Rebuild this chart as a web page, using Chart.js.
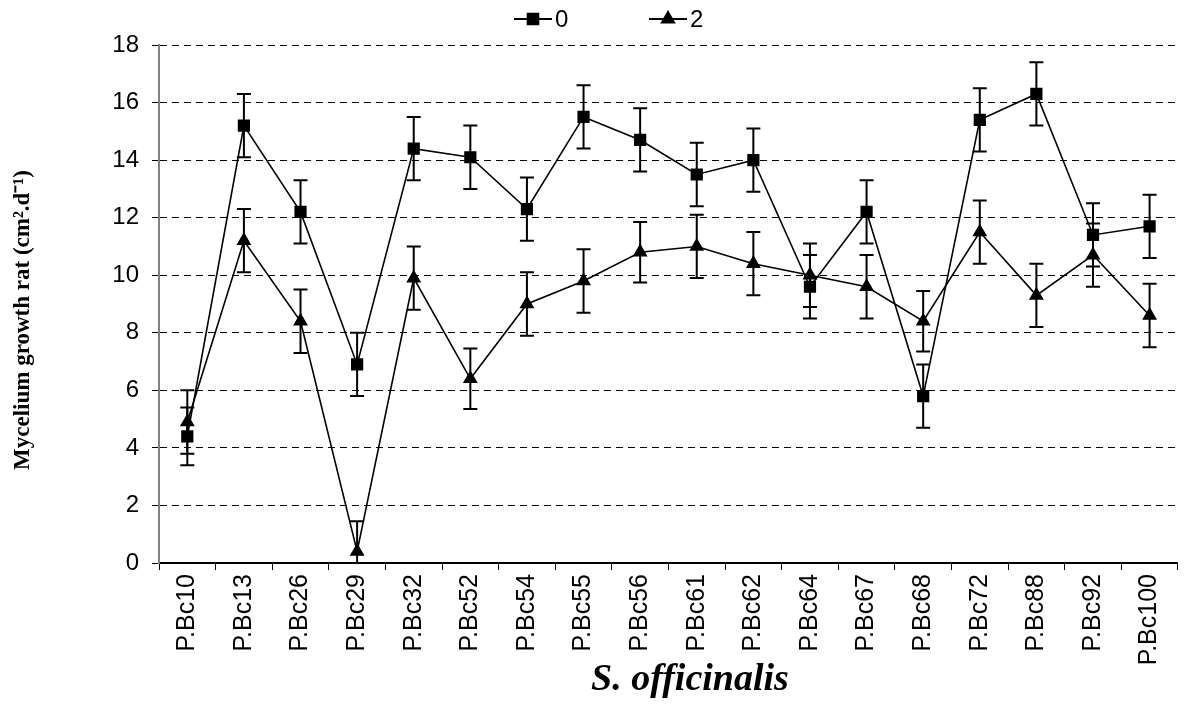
<!DOCTYPE html>
<html>
<head>
<meta charset="utf-8">
<script src="https://cdn.jsdelivr.net/npm/chart.js@4.4.1/dist/chart.umd.min.js"></script>
<style>
    html, body { margin: 0; padding: 0; background: #fff; }
    #wrap { width: 1187px; height: 709px; }
</style>
</head>
<body>
<div id="wrap"><canvas id="myChart" width="1187" height="709"></canvas></div>
<script>
// Isolates on the x axis
const isolates = ['P.Bc10', 'P.Bc13', 'P.Bc26', 'P.Bc29', 'P.Bc32', 'P.Bc52', 'P.Bc54', 'P.Bc55', 'P.Bc56',
    'P.Bc61', 'P.Bc62', 'P.Bc64', 'P.Bc67', 'P.Bc68', 'P.Bc72', 'P.Bc88', 'P.Bc92', 'P.Bc100'];

// Series "0" (squares) and its error bars
const growth0 = [4.4, 15.2, 12.2, 6.9, 14.4, 14.1, 12.3, 15.5, 14.7, 13.5, 14.0, 9.6, 12.2, 5.8, 15.4, 16.3, 11.4, 11.7];
const err0 = [1.0, 1.1, 1.1, 1.1, 1.1, 1.1, 1.1, 1.1, 1.1, 1.1, 1.1, 1.1, 1.1, 1.1, 1.1, 1.1, 1.1, 1.1];

// Series "2" (triangles) and its error bars
const growth2 = [4.9, 11.2, 8.4, 0.4, 9.9, 6.4, 9.0, 9.8, 10.8, 11.0, 10.4, 10.0, 9.6, 8.4, 11.5, 9.3, 10.7, 8.6];
const err2 = [1.1, 1.1, 1.1, 1.05, 1.1, 1.05, 1.1, 1.1, 1.05, 1.1, 1.1, 1.1, 1.1, 1.05, 1.1, 1.1, 1.1, 1.1];

const seriesNames = ['0', '2'];
const yTicks = [0, 2, 4, 6, 8, 10, 12, 14, 16, 18];
const xTitle = 'S. officinalis';
const yTitle = 'Mycelium growth rat (cm\u00B2.d\u207B\u00B9)';

// draws the error bars with caps (clipped to the plot area)
const errorBars = {
    id: 'errorBars',
    afterDatasetsDraw(chart) {
        const ctx = chart.ctx;
        const y = chart.scales.y;
        chart.data.datasets.forEach((ds, di) => {
            const meta = chart.getDatasetMeta(di);
            ctx.save();
            ctx.strokeStyle = '#000';
            ctx.lineWidth = 2;
            meta.data.forEach((pt, i) => {
                const e = ds.errors[i];
                const top = y.getPixelForValue(ds.data[i] + e);
                const lo = ds.data[i] - e;
                const bot = y.getPixelForValue(Math.max(lo, 0));
                ctx.beginPath();
                ctx.moveTo(pt.x, top); ctx.lineTo(pt.x, bot);
                ctx.moveTo(pt.x - 7, top); ctx.lineTo(pt.x + 7, top);
                if (lo >= 0) {
                    ctx.moveTo(pt.x - 7, bot); ctx.lineTo(pt.x + 7, bot);
                }
                ctx.stroke();
            });
            ctx.restore();
        });
    }
};

// legend with line + marker like the original, plus the axis titles
const lineLegend = {
    id: 'lineLegend',
    afterDraw(chart) {
        const ctx = chart.ctx;
        const items = [{ x: 514, style: 'rect', r: 7.5 }, { x: 649, style: 'triangle', r: 7 }];
        ctx.save();
        chart.data.datasets.forEach((ds, i) => {
            const x0 = items[i].x, yc = 19;
            ctx.strokeStyle = '#000';
            ctx.lineWidth = 2;
            ctx.beginPath();
            ctx.moveTo(x0, yc); ctx.lineTo(x0 + 38, yc);
            ctx.stroke();
            ctx.fillStyle = '#000';
            Chart.helpers.drawPoint(ctx, { pointStyle: items[i].style, radius: items[i].r, borderWidth: 1 }, x0 + 19, yc);
            ctx.fill();
            ctx.font = '24px "Liberation Sans", Arial, sans-serif';
            ctx.textBaseline = 'middle';
            ctx.textAlign = 'left';
            ctx.fillText(ds.label, x0 + 41, yc + 1);
        });

        // axis titles
        ctx.fillStyle = '#000';
        ctx.textAlign = 'center';
        ctx.textBaseline = 'middle';
        ctx.font = 'italic bold 38px "Liberation Serif", "Times New Roman", serif';
        ctx.fillText(xTitle, 690, 680);
        ctx.translate(23, 320);
        ctx.rotate(-Math.PI / 2);
        ctx.font = 'bold 23px "Liberation Serif", "Times New Roman", serif';
        ctx.fillText(yTitle, 0, 0);
        ctx.restore();
    }
};

const ctx = document.getElementById('myChart').getContext('2d');
new Chart(ctx, {
    type: 'line',
    data: {
        labels: isolates,
        datasets: [{
            label: seriesNames[0],
            data: growth0,
            errors: err0,
            borderColor: '#000',
            backgroundColor: '#000',
            borderWidth: 1.6,
            pointStyle: 'rect',
            pointRadius: 7.5,
            pointHoverRadius: 7.5,
            tension: 0
        }, {
            label: seriesNames[1],
            data: growth2,
            errors: err2,
            borderColor: '#000',
            backgroundColor: '#000',
            borderWidth: 1.6,
            pointStyle: 'triangle',
            pointRadius: 7,
            pointHoverRadius: 7,
            tension: 0
        }]
    },
    options: {
        responsive: false,
        animation: false,
        layout: { padding: { top: 45, right: 6, left: 0, bottom: 0 } },
        plugins: {
            legend: { display: false },
            tooltip: { enabled: false }
        },
        scales: {
            x: {
                offset: true,
                grid: {
                    display: true,
                    offset: true,
                    drawOnChartArea: false,
                    drawTicks: true,
                    tickLength: 7,
                    color: '#000'
                },
                border: { color: '#000', width: 2 },
                ticks: {
                    minRotation: 90,
                    maxRotation: 90,
                    autoSkip: false,
                    padding: 4,
                    color: '#000',
                    font: { family: '"Liberation Sans", Arial, sans-serif', size: 25 }
                },
                afterFit: function (s) { s.height = 146; }
            },
            y: {
                min: 0,
                max: 18,
                afterBuildTicks: function (s) { s.ticks = yTicks.map(v => ({ value: v })); },
                grid: {
                    color: '#000',
                    lineWidth: 1,
                    tickLength: 7,
                    tickBorderDash: [],
                    drawTicks: true
                },
                border: { color: '#808080', width: 2, dash: [7, 5] },
                ticks: {
                    padding: 13,
                    color: '#000',
                    font: { family: '"Liberation Sans", Arial, sans-serif', size: 24 }
                },
                afterFit: function (s) { s.width = 159; }
            }
        }
    },
    plugins: [errorBars, lineLegend]
});
</script>
</body>
</html>
